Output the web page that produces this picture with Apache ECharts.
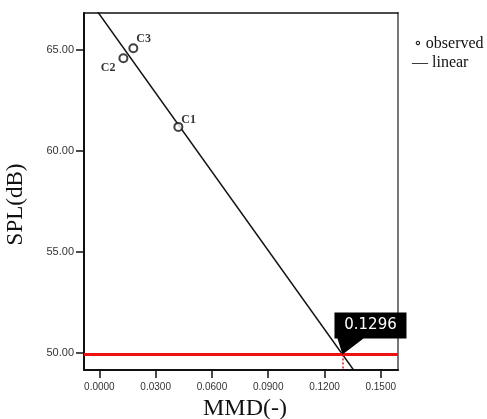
<!DOCTYPE html>
<html>
<head>
<meta charset="utf-8">
<script src="https://cdn.jsdelivr.net/npm/echarts@6/dist/echarts.min.js"></script>
<style>
  html, body { margin: 0; padding: 0; background: #fff; }
  #chart { width: 487px; height: 419px; }
</style>
</head>
<body>
<div id="chart"></div>
<script>
// observed points
const obsNames = ['C1', 'C2', 'C3']
const obsX = [0.0421, 0.0128, 0.0181]
const obsY = [61.19, 64.59, 65.08]

// fitted linear line (two end points, clipped by the grid)
const fitX = [-0.005, 0.145]
const fitY = [67.42, 47.92]

// threshold and solved MMD
const thresholdSPL = 49.92
const solvedMMD = 0.1296

const xTicks = [0, 0.03, 0.06, 0.09, 0.12, 0.15]
const yTicks = [50, 55, 60, 65]

const xMin = -0.0082
const xMax = 0.1592
const yMin = 49.15
const yMax = 66.83

const labelPlace = {
  C1: { position: 'right', offset: [-7, -7] },
  C2: { position: 'left', offset: [2, 10] },
  C3: { position: 'right', offset: [-7, -9] },
}

const chart = echarts.init(document.getElementById('chart'))

const serif = '"Liberation Serif", "DejaVu Serif", serif'

const option = {
  animation: false,
  backgroundColor: '#fff',
  grid: { left: 84, right: 89, top: 13, bottom: 49, outerBoundsMode: 'none', containLabel: false },
  xAxis: [
    {
      type: 'value',
      min: xMin,
      max: xMax,
      name: 'MMD(-)',
      nameLocation: 'middle',
      nameGap: 27,
      nameTextStyle: { fontFamily: serif, fontSize: 24, color: '#111', padding: [0, 0, 0, 8] },
      splitLine: { show: false },
      axisLine: { onZero: false, lineStyle: { color: '#111', width: 2 } },
      axisTick: { customValues: xTicks, length: 8, lineStyle: { color: '#111', width: 1.5 } },
      axisLabel: {
        customValues: xTicks,
        formatter: v => v.toFixed(4),
        fontFamily: 'Liberation Sans, Arial, sans-serif',
        fontSize: 10,
        color: '#333',
        margin: 12,
      },
    },
    {
      type: 'value',
      position: 'top',
      min: xMin,
      max: xMax,
      splitLine: { show: false },
      axisLine: { onZero: false, lineStyle: { color: '#111', width: 1.5 } },
      axisTick: { show: false },
      axisLabel: { show: false },
    },
  ],
  yAxis: [
    {
      type: 'value',
      min: yMin,
      max: yMax,
      name: 'SPL(dB)',
      nameLocation: 'middle',
      nameGap: 57,
      nameRotate: 90,
      nameTextStyle: { fontFamily: serif, fontSize: 23, color: '#111', padding: [0, 26, 0, 0] },
      splitLine: { show: false },
      axisLine: { show: true, onZero: false, lineStyle: { color: '#111', width: 2 } },
      axisTick: { show: true, customValues: yTicks, length: 8, lineStyle: { color: '#111', width: 1.5 } },
      axisLabel: {
        customValues: yTicks,
        formatter: v => v.toFixed(2),
        fontFamily: 'Liberation Sans, Arial, sans-serif',
        fontSize: 11,
        color: '#333',
        margin: 10,
      },
    },
    {
      type: 'value',
      position: 'right',
      min: yMin,
      max: yMax,
      splitLine: { show: false },
      axisLine: { show: true, onZero: false, lineStyle: { color: '#777', width: 2 } },
      axisTick: { show: false },
      axisLabel: { show: false },
    },
  ],
  graphic: [
    {
      type: 'text',
      left: 414,
      top: 36,
      style: { text: '∘ observed', font: '16px ' + serif, fill: '#111' },
    },
    {
      type: 'text',
      left: 412,
      top: 55,
      style: { text: '— linear', font: '16px ' + serif, fill: '#111' },
    },
  ],
  series: [
    {
      name: 'linear',
      type: 'line',
      data: fitX.map((x, i) => [x, fitY[i]]),
      symbol: 'none',
      clip: true,
      lineStyle: { color: '#111', width: 1.5 },
      z: 3,
    },
    {
      name: 'threshold',
      type: 'line',
      data: [],
      markLine: {
        silent: true,
        symbol: 'none',
        label: { show: false },
        data: [
          [
            { coord: [xMin, thresholdSPL], lineStyle: { color: '#ee1111', width: 3, type: 'solid' } },
            { coord: [xMax, thresholdSPL] },
          ],
          [
            { coord: [solvedMMD, thresholdSPL], lineStyle: { color: '#ee1111', width: 1.5, type: [2, 2] } },
            { coord: [solvedMMD, yMin] },
          ],
        ],
      },
      markPoint: {
        silent: true,
        data: [{ coord: [solvedMMD, thresholdSPL], value: solvedMMD }],
        symbol: 'path://M0 0 L72 0 L72 26 L29 26 L8 42 L3 26 L0 26 Z',
        symbolSize: [72, 42],
        symbolOffset: [28, -21],
        itemStyle: { color: '#000' },
        label: {
          show: true,
          position: 'inside',
          offset: [0, -8],
          formatter: () => solvedMMD.toFixed(4),
          color: '#fff',
          fontFamily: '"DejaVu Sans", sans-serif',
          fontSize: 15,
        },
      },
      z: 4,
    },
    {
      name: 'observed',
      type: 'scatter',
      data: obsNames.map((n, i) => ({
        name: n,
        value: [obsX[i], obsY[i]],
        label: labelPlace[n],
      })),
      symbol: 'circle',
      symbolSize: 8,
      itemStyle: { color: '#fff', borderColor: '#111', borderWidth: 2 },
      label: {
        show: true,
        formatter: p => p.name,
        fontFamily: serif,
        fontWeight: 'bold',
        fontSize: 12,
        color: '#000',
      },
      z: 5,
    },
  ],
}

chart.setOption(option)
</script>
</body>
</html>
